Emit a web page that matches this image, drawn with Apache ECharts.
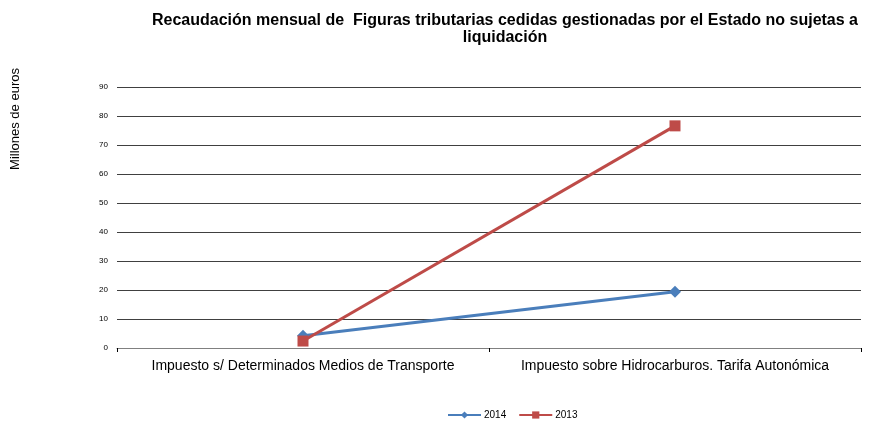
<!DOCTYPE html>
<html><head><meta charset="utf-8">
<script src="https://cdn.jsdelivr.net/npm/echarts@6/dist/echarts.min.js"></script>
<style>html,body{margin:0;padding:0;background:#fff}#c{width:871px;height:423px}</style>
</head><body><div id="c"></div>
<script>
var categories = ['Impuesto s/ Determinados Medios de Transporte', 'Impuesto sobre Hidrocarburos. Tarifa Autonómica'];
var values2014 = [4.2, 19.4];
var values2013 = [2.4, 76.6];
var yTicks = [0, 90, 10];
var chart = echarts.init(document.getElementById('c'));
chart.setOption({
  animation: false,
  backgroundColor: '#fff',
  title: {
    text: 'Recaudación mensual de  Figuras tributarias cedidas gestionadas por el Estado no sujetas a\nliquidación',
    left: 500, top: 7, textAlign: 'center',
    textStyle: {fontFamily: 'Liberation Sans', fontSize: 16, fontWeight: 'bold', color: '#000', lineHeight: 17}
  },
  graphic: [{
    type: 'text', rotation: Math.PI / 2,
    style: {text: 'Millones de euros', font: '13px "Liberation Sans"', fill: '#000', textAlign: 'center', textVerticalAlign: 'middle'},
    x: 15, y: 119
  }],
  legend: {
    top: 405, left: 442, itemWidth: 33, itemHeight: 9, itemGap: 12,
    textStyle: {fontFamily: 'Liberation Sans', fontSize: 10, color: '#000', padding: [0, 0, 0, -2]},
    data: ['2014', '2013']
  },
  grid: {left: 117, right: 10, top: 87, bottom: 75, containLabel: false},
  xAxis: {
    type: 'category', data: categories, boundaryGap: true,
    axisLine: {lineStyle: {color: '#808080', width: 1}},
    axisTick: {show: true, length: 4, interval: 0, lineStyle: {color: '#000'}},
    axisLabel: {fontFamily: 'Liberation Sans', fontSize: 14, color: '#000', margin: 11, interval: 0}
  },
  yAxis: {
    type: 'value', min: yTicks[0], max: yTicks[1], interval: yTicks[2],
    axisLine: {show: false}, axisTick: {show: false},
    axisLabel: {fontFamily: 'Liberation Sans', fontSize: 8, color: '#000', margin: 9},
    splitLine: {lineStyle: {color: '#404040', width: 1}}
  },
  series: [
    {name: '2014', type: 'line', data: values2014, symbol: 'diamond', symbolSize: 12,
     lineStyle: {color: '#4a7ebb', width: 3}, itemStyle: {color: '#4a7ebb'}},
    {name: '2013', type: 'line', data: values2013, symbol: 'rect', symbolSize: 11,
     lineStyle: {color: '#be4b48', width: 3}, itemStyle: {color: '#be4b48'}}
  ]
});
</script></body></html>
